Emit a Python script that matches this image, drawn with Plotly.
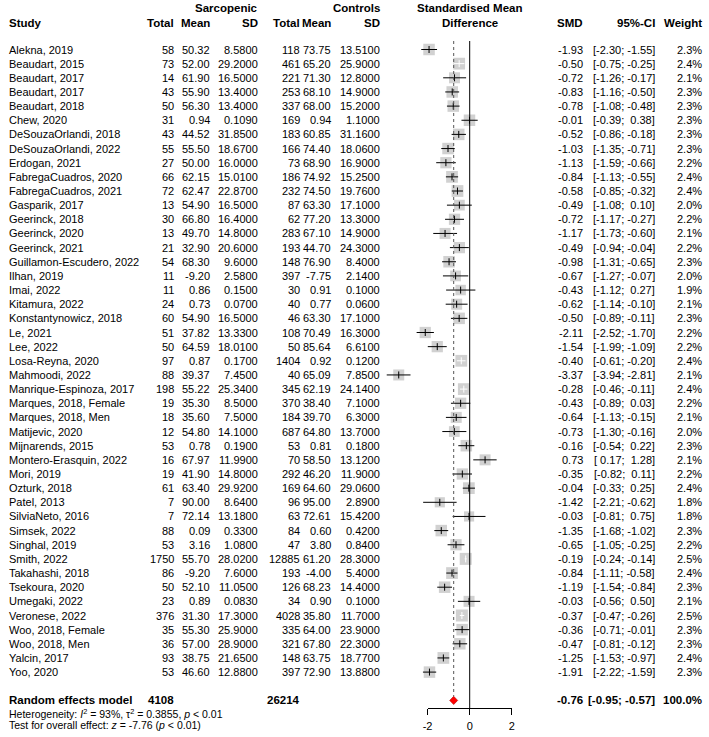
import math
import plotly.graph_objects as go

# ---- data ----
study = [
    "Alekna, 2019", "Beaudart, 2015", "Beaudart, 2017", "Beaudart, 2017", "Beaudart, 2018",
    "Chew, 2020", "DeSouzaOrlandi, 2018", "DeSouzaOrlandi, 2022", "Erdogan, 2021",
    "FabregaCuadros, 2020", "FabregaCuadros, 2021", "Gasparik, 2017", "Geerinck, 2018",
    "Geerinck, 2020", "Geerinck, 2021", "Guillamon-Escudero, 2022", "Ilhan, 2019", "Imai, 2022",
    "Kitamura, 2022", "Konstantynowicz, 2018", "Le, 2021", "Lee, 2022", "Losa-Reyna, 2020",
    "Mahmoodi, 2022", "Manrique-Espinoza, 2017", "Marques, 2018, Female", "Marques, 2018, Men",
    "Matijevic, 2020", "Mijnarends, 2015", "Montero-Erasquin, 2022", "Mori, 2019", "Ozturk, 2018",
    "Patel, 2013", "SilviaNeto, 2016", "Simsek, 2022", "Singhal, 2019", "Smith, 2022",
    "Takahashi, 2018", "Tsekoura, 2020", "Umegaki, 2022", "Veronese, 2022", "Woo, 2018, Female",
    "Woo, 2018, Men", "Yalcin, 2017", "Yoo, 2020",
]
sarc_total = [58, 73, 14, 43, 50, 31, 43, 55, 27, 66, 72, 13, 30, 13, 21, 54, 11, 11, 24, 60,
              51, 50, 97, 88, 198, 19, 18, 12, 53, 16, 19, 61, 7, 7, 88, 53, 1750, 86, 50, 23,
              376, 35, 36, 93, 53]
sarc_mean = [50.32, 52.00, 61.90, 55.90, 56.30, 0.94, 44.52, 55.50, 50.00, 62.15, 62.47, 54.90,
             66.80, 49.70, 32.90, 68.30, -9.20, 0.86, 0.73, 54.90, 37.82, 64.59, 0.87, 39.37,
             55.22, 35.30, 35.60, 54.80, 0.78, 67.97, 41.90, 63.40, 90.00, 72.14, 0.09, 3.16,
             55.70, -9.20, 52.10, 0.89, 31.30, 55.30, 57.00, 38.75, 46.60]
sarc_sd = [8.58, 29.2, 16.5, 13.4, 13.4, 0.109, 31.85, 18.67, 16.0, 15.01, 22.87, 16.5, 16.4,
           14.8, 20.6, 9.6, 2.58, 0.15, 0.07, 16.5, 13.33, 18.01, 0.17, 7.45, 25.34, 8.5, 7.5,
           14.1, 0.19, 11.99, 14.8, 29.92, 8.64, 13.18, 0.33, 1.08, 28.02, 7.6, 11.05, 0.083,
           17.3, 25.9, 28.9, 21.65, 12.88]
ctrl_total = [118, 461, 221, 253, 337, 169, 183, 166, 73, 186, 232, 87, 62, 283, 193, 148, 397,
              30, 40, 46, 108, 50, 1404, 40, 345, 370, 184, 687, 53, 70, 292, 169, 96, 63, 84,
              47, 12885, 193, 126, 34, 4028, 335, 321, 148, 397]
ctrl_mean = [73.75, 65.20, 71.30, 68.10, 68.00, 0.94, 60.85, 74.40, 68.90, 74.92, 74.50, 63.30,
             77.20, 67.10, 44.70, 76.90, -7.75, 0.91, 0.77, 63.30, 70.49, 85.64, 0.92, 65.09,
             62.19, 38.40, 39.70, 64.80, 0.81, 58.50, 46.20, 64.60, 95.00, 72.61, 0.60, 3.80,
             61.20, -4.00, 68.23, 0.90, 35.80, 64.00, 67.80, 63.75, 72.90]
ctrl_sd = [13.51, 25.9, 12.8, 14.9, 15.2, 1.1, 31.16, 18.06, 16.9, 15.25, 19.76, 17.1, 13.3, 14.9,
           24.3, 8.4, 2.14, 0.1, 0.06, 17.1, 16.3, 6.61, 0.12, 7.85, 24.14, 7.1, 6.3, 13.7, 0.18,
           13.12, 11.9, 29.06, 2.89, 15.42, 0.42, 0.84, 28.3, 5.4, 14.4, 0.1, 11.7, 23.9, 22.3,
           18.77, 13.88]
smd = [-1.93, -0.50, -0.72, -0.83, -0.78, -0.01, -0.52, -1.03, -1.13, -0.84, -0.58, -0.49, -0.72,
       -1.17, -0.49, -0.98, -0.67, -0.43, -0.62, -0.50, -2.11, -1.54, -0.40, -3.37, -0.28, -0.43,
       -0.64, -0.73, -0.16, 0.73, -0.35, -0.04, -1.42, -0.03, -1.35, -0.65, -0.19, -0.84, -1.19,
       -0.03, -0.37, -0.36, -0.47, -1.25, -1.91]
ci_lo = [-2.30, -0.75, -1.26, -1.16, -1.08, -0.39, -0.86, -1.35, -1.59, -1.13, -0.85, -1.08,
         -1.17, -1.73, -0.94, -1.31, -1.27, -1.12, -1.14, -0.89, -2.52, -1.99, -0.61, -3.94,
         -0.46, -0.89, -1.13, -1.30, -0.54, 0.17, -0.82, -0.33, -2.21, -0.81, -1.68, -1.05,
         -0.24, -1.11, -1.54, -0.56, -0.47, -0.71, -0.81, -1.53, -2.22]
ci_hi = [-1.55, -0.25, -0.17, -0.50, -0.48, 0.38, -0.18, -0.71, -0.66, -0.55, -0.32, 0.10, -0.27,
         -0.60, -0.04, -0.65, -0.07, 0.27, -0.10, -0.11, -1.70, -1.09, -0.20, -2.81, -0.11, 0.03,
         -0.15, -0.16, 0.22, 1.28, 0.11, 0.25, -0.62, 0.75, -1.02, -0.25, -0.14, -0.58, -0.84,
         0.50, -0.26, -0.01, -0.12, -0.97, -1.59]
weight = [2.3, 2.4, 2.1, 2.3, 2.3, 2.3, 2.3, 2.3, 2.2, 2.4, 2.4, 2.0, 2.2, 2.1, 2.2, 2.3, 2.0, 1.9,
          2.1, 2.3, 2.2, 2.2, 2.4, 2.1, 2.4, 2.2, 2.1, 2.0, 2.3, 2.1, 2.2, 2.4, 1.8, 1.8, 2.3, 2.2,
          2.5, 2.4, 2.3, 2.1, 2.5, 2.3, 2.3, 2.4, 2.3]

pooled_smd, pooled_lo, pooled_hi = -0.76, -0.95, -0.57
pooled_n_sarc, pooled_n_ctrl = 4108, 26214
axis_ticks = [-2, 0, 2]
axis_ticktext = ["-2", "0", "2"]

# ---- layout helpers (pixel geometry of the page) ----
W, H = 709, 737
ZERO_PX, PX_UNIT = 470, 21.3          # forest x scale
ROW0_PX, ROW_PX = 49.5, 14.15         # first study row, row pitch
FONT = "Liberation Sans, Arial, sans-serif"
FS, FS_B = 11, 11.5                   # body / bold font sizes
# right edges of the table columns (px)
C_STUDY, C_STOT, C_SMEAN, C_SSD = 3, 172, 208, 257
C_CTOT, C_CMEAN, C_CSD = 299, 331, 380
C_SMD, C_CI, C_W = 586, 658, 706


def row_at(py):
    return (py - ROW0_PX) / ROW_PX + 1


def px(x):
    return x / W


rows = list(range(1, len(study) + 1))
sum_row = len(study) + 2

fig = go.Figure()

# squares
fig.add_trace(go.Scatter(
    x=smd, y=rows, mode="markers", hoverinfo="skip",
    marker=dict(symbol="square", color="#BEBEBE",
                size=[12 * math.sqrt(w / 2.5) for w in weight], line_width=0)))

# CI lines: white when the interval fits inside the box
inside = [(h - l) < 0.52 for l, h in zip(ci_lo, ci_hi)]
for flag, col in [(False, "black"), (True, "white")]:
    xs, ys, ex, ey = [], [], [], []
    for i, r in enumerate(rows):
        if inside[i] != flag:
            continue
        xs += [ci_lo[i], ci_hi[i], None]
        ys += [r, r, None]
        ex.append(smd[i])
        ey.append(r)
    fig.add_trace(go.Scatter(x=xs, y=ys, mode="lines", hoverinfo="skip",
                             line=dict(color=col, width=1)))
    fig.add_trace(go.Scatter(x=ex, y=ey, mode="markers", hoverinfo="skip",
                             marker=dict(symbol="line-ns", size=5,
                                         line=dict(color=col, width=1))))

# pooled diamond
dh = 0.29
fig.add_trace(go.Scatter(
    x=[pooled_lo, pooled_smd, pooled_hi, pooled_smd, pooled_lo],
    y=[sum_row, sum_row - dh, sum_row, sum_row + dh, sum_row],
    mode="lines", fill="toself", fillcolor="red", hoverinfo="skip",
    line=dict(color="#B00000", width=0.6)))

# invisible trace that hosts the tick axis
fig.add_trace(go.Scatter(x=axis_ticks, y=[None] * 3, xaxis="x2", hoverinfo="skip",
                         mode="markers", showlegend=False))

line_top = row_at(41)
axis_y = row_at(708)
fig.add_shape(type="line", xref="x", yref="y", x0=0, x1=0, y0=line_top, y1=axis_y,
              line=dict(color="black", width=1))
fig.add_shape(type="line", xref="x", yref="y", x0=pooled_smd, x1=pooled_smd,
              y0=line_top, y1=sum_row - dh, line=dict(color="#555555", width=1, dash="dot"))

# ---- table text ----
ann = []


def txt(x, y, s, anchor="right", size=FS, bold=False):
    if bold:
        s = "<b>" + s + "</b>"
    ann.append(dict(x=px(x), y=y, xref="paper", yref="y", text=s, showarrow=False,
                    xanchor=anchor, yanchor="middle", align=anchor, borderpad=0,
                    font=dict(family=FONT, size=size, color="black")))


h1, h2 = row_at(8), row_at(22.5)
txt(C_SSD, h1, "Sarcopenic", size=FS_B, bold=True)
txt(C_CSD, h1, "Controls", size=FS_B, bold=True)
txt(ZERO_PX, h1, "Standardised Mean", anchor="center", size=FS_B, bold=True)
txt(C_STUDY, h2, "Study", anchor="left", size=FS_B, bold=True)
for x, s in [(C_STOT, "Total"), (C_SMEAN, "Mean"), (C_SSD, "SD"), (C_CTOT, "Total"),
             (C_CMEAN, "Mean"), (C_CSD, "SD"), (C_SMD, "SMD"), (C_CI, "95%-CI"),
             (C_W, "Weight")]:
    txt(x, h2, s, size=FS_B, bold=True)
txt(ZERO_PX, h2, "Difference", anchor="center", size=FS_B, bold=True)

for i, r in enumerate(rows):
    txt(C_STUDY, r, study[i], anchor="left")
    txt(C_STOT, r, str(sarc_total[i]))
    txt(C_SMEAN, r, f"{sarc_mean[i]:.2f}")
    txt(C_SSD, r, f"{sarc_sd[i]:.4f}")
    txt(C_CTOT, r, str(ctrl_total[i]))
    txt(C_CMEAN, r, f"{ctrl_mean[i]:.2f}")
    txt(C_CSD, r, f"{ctrl_sd[i]:.4f}")
    txt(C_SMD, r, f"{smd[i]:.2f}")
    txt(C_CI, r, f"[{ci_lo[i]:5.2f}; {ci_hi[i]:5.2f}]")
    txt(C_W, r, f"{weight[i]:.1f}%")

txt(C_STUDY, sum_row, "Random effects model", anchor="left", size=FS_B, bold=True)
txt(C_STOT, sum_row, str(pooled_n_sarc), size=FS_B, bold=True)
txt(C_CTOT, sum_row, str(pooled_n_ctrl), size=FS_B, bold=True)
txt(C_SMD, sum_row, f"{pooled_smd:.2f}", size=FS_B, bold=True)
txt(C_CI, sum_row, f"[{pooled_lo:.2f}; {pooled_hi:.2f}]", size=FS_B, bold=True)
txt(C_W, sum_row, f"{sum(weight) / sum(weight) * 100:.1f}%", size=FS_B, bold=True)

txt(C_STUDY, row_at(713), "Heterogeneity: <i>I</i><sup>2</sup> = 93%, \u03c4<sup>2</sup> = 0.3855, "
    "<i>p</i> < 0.01", anchor="left", size=10.5)
txt(C_STUDY, row_at(724.5), "Test for overall effect: <i>z</i> = -7.76 (<i>p</i> < 0.01)",
    anchor="left", size=10.5)

fig.update_layout(
    width=W, height=H, margin=dict(l=0, r=0, t=0, b=0),
    paper_bgcolor="white", plot_bgcolor="rgba(0,0,0,0)", showlegend=False,
    annotations=ann,
    xaxis=dict(range=[-ZERO_PX / PX_UNIT, (W - ZERO_PX) / PX_UNIT], visible=False,
               domain=[0, 1]),
    xaxis2=dict(domain=[px(ZERO_PX - 2 * PX_UNIT), px(ZERO_PX + 2 * PX_UNIT)],
                range=[-2, 2], anchor="free", position=1 - 708 / H,
                showline=True, linecolor="black", linewidth=1, showgrid=False,
                zeroline=False, ticks="outside", ticklen=6, tickcolor="black",
                tickwidth=1, tickvals=axis_ticks, ticktext=axis_ticktext,
                ticklabelstandoff=2,
                tickfont=dict(family=FONT, size=FS, color="black")),
    yaxis=dict(range=[row_at(H), row_at(0)], visible=False),
)

fig.write_html("out.html", config={"displayModeBar": False},
               post_script="document.body.style.margin='0';")
